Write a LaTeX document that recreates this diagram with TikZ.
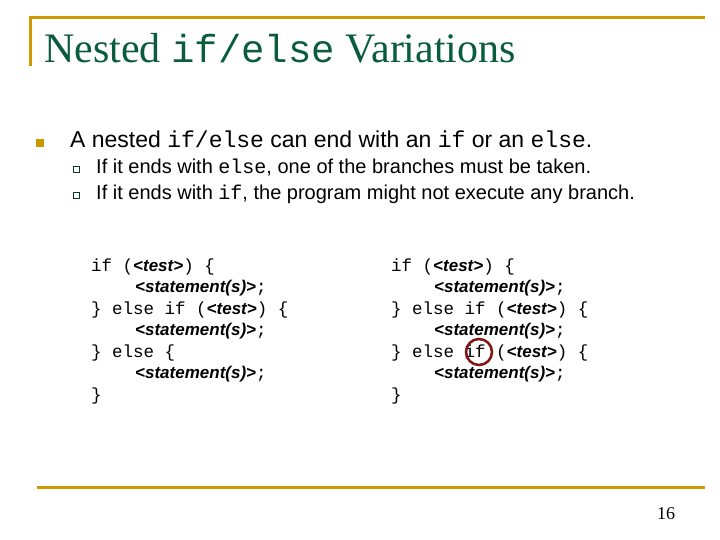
\documentclass[tikz,border=0pt]{standalone}
\usepackage{fontspec}
\setmainfont{Liberation Sans}
\newfontfamily\ser{Liberation Serif}
\newfontfamily\mon{Liberation Mono}
\begin{document}
\begin{tikzpicture}[x=1pt,y=-1pt,
  txt/.style={anchor=base west,inner sep=0pt,text=black},
  code/.style={txt,font=\fontsize{17.5}{17.5}\mon},
  gold/.style={draw=gold,line width=3pt}]
\definecolor{gold}{RGB}{204,153,0}
\definecolor{tgreen}{RGB}{10,92,60}
\definecolor{dred}{RGB}{128,20,20}
\newcommand\tst{{\rmfamily\bfseries\itshape\fontsize{17}{17}\selectfont <test>}}
\newcommand\stm{{\rmfamily\bfseries\itshape\fontsize{17}{17}\selectfont <statement(s)>}}
\useasboundingbox[fill=white] (0,0) rectangle (720,540);
\coordinate (t1) at (30,18); \coordinate (t2) at (705,18); \coordinate (t3) at (30,66);
\draw[gold] (t3) -- (t1) -- (t2);
\coordinate (b1) at (37,487); \coordinate (b2) at (705,487);
\draw[gold] (b1) -- (b2);
\node[txt,text=tgreen,font=\fontsize{42}{42}\ser] (title) at (44,63) {Nested {\mon\fontsize{39}{39}\selectfont if/else} Variations};
\node[fill=gold,minimum size=8pt,inner sep=0pt] (bl) at (40,143) {};
\node[txt,font=\fontsize{23}{23}\selectfont] (l1) at (70,148) {A nested {\mon if/else} can end with an {\mon if} or an {\mon else}.};
\node[draw=tgreen!70!black,line width=0.6pt,minimum size=6pt,inner sep=0pt] (s1) at (76,169) {};
\node[draw=tgreen!70!black,line width=0.6pt,minimum size=6pt,inner sep=0pt] (s2) at (76,195) {};
\node[txt,font=\fontsize{20}{20}\selectfont] (l2) at (96,174) {If it ends with {\mon else}, one of the branches must be taken.};
\node[txt,font=\fontsize{20}{20}\selectfont] (l3) at (96,200) {If it ends with {\mon if}, the program might not execute any branch.};
% left code
\node[code] (a1) at (91,271) {if (\tst) \{};
\node[code] (a2) at (135,292) {\stm;};
\node[code] (a3) at (91,314) {\} else if (\tst) \{};
\node[code] (a4) at (135,335) {\stm;};
\node[code] (a5) at (91,357) {\} else \{};
\node[code] (a6) at (135,378) {\stm;};
\node[code] (a7) at (91,400) {\}};
% right code
\node[code] (c1) at (391,271) {if (\tst) \{};
\node[code] (c2) at (434,292) {\stm;};
\node[code] (c3) at (391,314) {\} else if (\tst) \{};
\node[code] (c4) at (434,335) {\stm;};
\node[code] (c5) at (391,357) {\} else if (\tst) \{};
\node[code] (c6) at (434,378) {\stm;};
\node[code] (c7) at (391,400) {\}};
\node[draw=dred,line width=2.5pt,circle,minimum size=26pt,inner sep=0pt] (circ) at (479,352) {};
\node[txt,font=\fontsize{18}{18}\ser] (pg) at (657,519) {16};
\end{tikzpicture}
\end{document}
